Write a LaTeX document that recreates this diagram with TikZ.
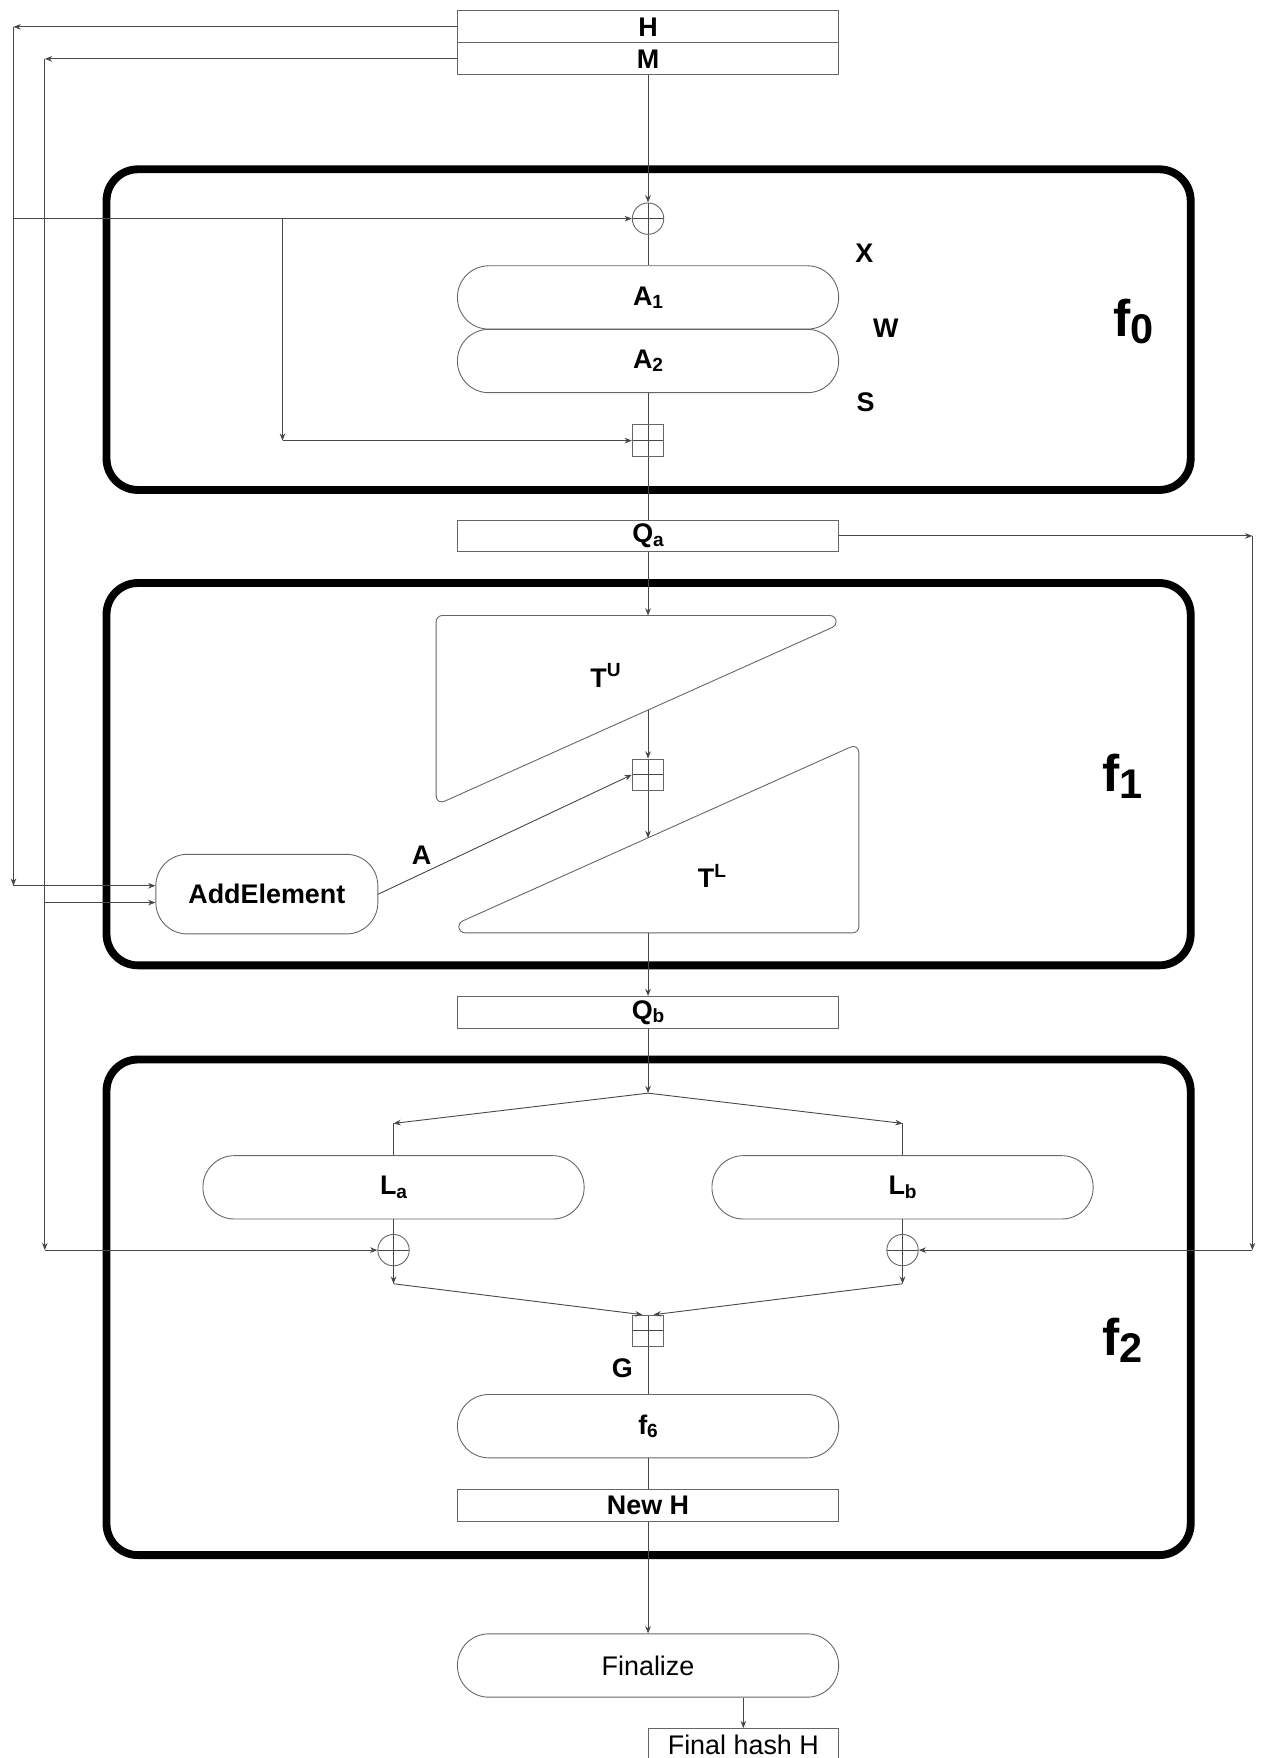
\documentclass[tikz,border=0pt]{standalone}
\usepackage{fontspec}
\setmainfont{Liberation Sans}
\usetikzlibrary{arrows.meta}
\newcommand\bsz{\fontsize{24}{26}\selectfont\bfseries}
\newcommand\rsz{\fontsize{24}{26}\selectfont}
\newcommand\sbs[1]{\raisebox{-3pt}{\fontsize{17}{18}\selectfont #1}}
\newcommand\sps[1]{\raisebox{9.5pt}{\fontsize{17}{18}\selectfont #1}}
\newcommand\flab[1]{{\fontsize{46}{48}\selectfont\bfseries f\raisebox{-6.5pt}{\fontsize{37}{38}\selectfont #1}}}
\begin{document}
\begin{tikzpicture}[x=1pt,y=-1pt,
  ln/.style={draw=black!72, line width=0.8pt},
  arr/.style={ln, -{Stealth[length=6.5pt,width=5pt]}},
  shp/.style={draw=black!60, line width=0.8pt, inner sep=0pt, text=black},
  box/.style={shp, rectangle, minimum width=340pt, minimum height=28.5pt, font=\bsz},
  pill/.style={shp, rectangle, rounded corners=28pt, minimum width=340pt, minimum height=56.5pt, font=\bsz},
  cross/.style={path picture={\draw[black!72, line width=0.8pt]
      (path picture bounding box.north) -- (path picture bounding box.south)
      (path picture bounding box.west) -- (path picture bounding box.east);}},
  xorc/.style={shp, circle, minimum size=28pt, cross},
  addb/.style={shp, rectangle, minimum size=28pt, cross},
  frm/.style={draw=black, line width=7pt, rounded corners=28pt, inner sep=0pt},
  tri/.style={draw=black!60, line width=0.8pt},
  lab/.style={font=\bsz, inner sep=0pt},
  flb/.style={anchor=base west, inner sep=0pt},
]
\useasboundingbox (0,0) rectangle (1126,1568);
\clip (0,0) rectangle (1126,1568);

% round-cornered frames of the three stages
\node[frm, minimum width=967pt, minimum height=286pt] (F0) at (578.5,294) {};
\node[frm, minimum width=967pt, minimum height=341pt] (F1) at (578.5,690.5) {};
\node[frm, minimum width=967pt, minimum height=442pt] (F2) at (578.5,1166) {};

% state registers and blocks
\node[box] (H) at (578,24) {H};
\node[box] (M) at (578,52.5) {M};
\node[xorc] (x0) at (578,195) {};
\node[pill] (A1) at (578,265.3) {A\sbs{1}};
\node[pill] (A2) at (578,322) {A\sbs{2}};
\node[addb] (s0) at (578,393) {};
\node[box] (Qa) at (578,478) {Q\sbs{a}};
\node[addb] (s1) at (578,691) {};
\node[pill, minimum width=198pt, minimum height=71pt] (AE) at (238,797.5) {AddElement};
\node[box] (Qb) at (578,903) {Q\sbs{b}};
\node[pill] (La) at (351,1059) {L\sbs{a}};
\node[pill] (Lb) at (805,1059) {L\sbs{b}};
\node[xorc] (xl) at (351,1115) {};
\node[xorc] (xr) at (805,1115) {};
\node[addb] (s2) at (578,1187) {};
\node[pill] (F6) at (578,1272) {f\sbs{6}};
\node[box] (NH) at (578,1343) {New H};
\node[pill, font=\rsz] (Fin) at (578,1485.5) {Finalize};
\node[box, minimum width=170pt, font=\rsz] (FH) at (663,1556) {Final hash H};

% the two triangular tables T^U and T^L
\draw[tri] (578,549) -- (740.28,549) arc[start angle=-90, end angle=65.85, radius=5.5]
  [rounded corners=8.5pt] -- (389,718) [rounded corners=5.5pt] -- (389,549) -- cycle;
\draw[tri] (578,832) -- (414.72,832) arc[start angle=90, end angle=245.85, radius=5.5]
  [rounded corners=8.5pt] -- (766,663) [rounded corners=5.5pt] -- (766,832) -- cycle;

% labels
\node[lab] (lX) at (771,226) {X};
\node[lab] (lW) at (790,293) {W};
\node[lab] (lS) at (772,359) {S};
\node[lab, anchor=base] (lTU) at (540,613) {T\sps{U}};
\node[lab, anchor=base] (lTL) at (635,792) {T\sps{L}};
\node[lab] (lA) at (376,763) {A};
\node[lab] (lG) at (555,1220) {G};
\node[flb] (lf0) at (993,300) {\flab{0}};
\node[flb] (lf1) at (983,706) {\flab{1}};
\node[flb] (lf2) at (983,1209) {\flab{2}};

% routing points
\coordinate (cH) at (12,24);
\coordinate (cHd) at (12,790);
\coordinate (jH) at (12,195);
\coordinate (jB) at (252,195);
\coordinate (jBd) at (252,393);
\coordinate (cM) at (40,52.5);
\coordinate (cMd) at (40,1115);
\coordinate (jM) at (40,805);
\coordinate (cQ) at (1117,478);
\coordinate (cQd) at (1117,1115);
\coordinate (tU) at (578,549);
\coordinate (dU) at (578,633.5);
\coordinate (dL) at (578,747.5);
\coordinate (tL) at (578,832);
\coordinate (sp) at (578,975);
\coordinate (spl) at (351,1002);
\coordinate (spr) at (805,1002);
\coordinate (ml) at (351,1145);
\coordinate (mr) at (805,1145);

% H feeds
\draw[arr] (H.west) -- (cH);
\draw[arr] (cH) -- (cHd);
\draw[arr] (cHd) -- (cHd -| AE.west);
\draw[arr] (jH) -- (x0.west);
\draw[arr] (jB) -- (jBd);
\draw[arr] (jBd) -- (s0.west);
% M feeds
\draw[arr] (M.west) -- (cM);
\draw[arr] (cM) -- (cMd);
\draw[arr] (cMd) -- (xl.west);
\draw[arr] (jM) -- (jM -| AE.west);
% stage f0
\draw[arr] (M.south) -- (x0.north);
\draw[ln] (x0.south) -- (A1.north);
\draw[ln] (A2.south) -- (s0.north);
\draw[ln] (s0.south) -- (Qa.north);
% Qa feed to f2
\draw[arr] (Qa.east) -- (cQ);
\draw[arr] (cQ) -- (cQd);
\draw[arr] (cQd) -- (xr.east);
% stage f1
\draw[arr] (Qa.south) -- (tU);
\draw[arr] (dU) -- (s1.north);
\draw[arr] (s1.south) -- (dL);
\draw[arr] (AE.east) -- (s1.west);
\draw[arr] (tL) -- (Qb.north);
% stage f2
\draw[arr] (Qb.south) -- (sp);
\draw[arr] (sp) -- (spl);
\draw[arr] (sp) -- (spr);
\draw[ln] (spl) -- (La.north);
\draw[ln] (spr) -- (Lb.north);
\draw[ln] (La.south) -- (xl.north);
\draw[ln] (Lb.south) -- (xr.north);
\draw[arr] (xl.south) -- (ml);
\draw[arr] (xr.south) -- (mr);
\draw[arr] (ml) -- ([xshift=-5pt]s2.north);
\draw[arr] (mr) -- ([xshift=5pt]s2.north);
\draw[ln] (s2.south) -- (F6.north);
\draw[ln] (F6.south) -- (NH.north);
% finalisation
\draw[arr] (NH.south) -- (Fin.north);
\draw[arr] (Fin.south -| FH.north) -- (FH.north);
\end{tikzpicture}
\end{document}
